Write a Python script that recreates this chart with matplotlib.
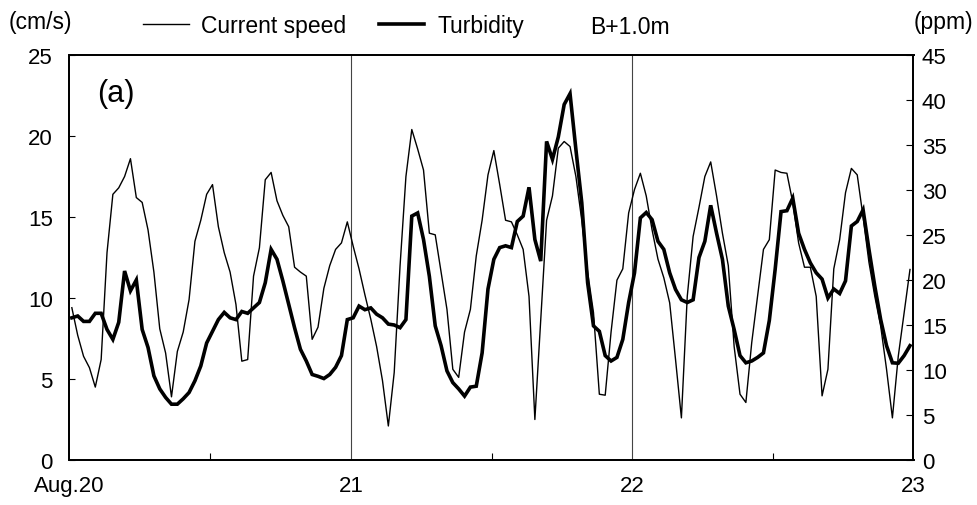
import numpy as np
import matplotlib
matplotlib.use("Agg")
import matplotlib.pyplot as plt
from matplotlib.ticker import MultipleLocator

plt.rcParams['font.family'] = ['Liberation Sans', 'DejaVu Sans']

# ---- data (half-hourly, hours since Aug.20 00:00) ----
start_hour = 0.2
step_hour = 0.5

current_speed = [  # cm/s
    9.4, 7.7, 6.4, 5.7, 4.5, 6.2, 12.8, 16.4, 16.8, 17.5, 18.6, 16.2,
    15.9, 14.2, 11.6, 8.1, 6.6, 3.9, 6.7, 7.9, 9.9, 13.5, 14.8, 16.4,
    17.0, 14.4, 12.8, 11.6, 9.6, 6.1, 6.2, 11.35, 13.1, 17.3, 17.75, 16.0,
    15.1, 14.4, 11.9, 11.6, 11.35, 7.45, 8.2, 10.6, 12.0, 13.0, 13.4, 14.7,
    13.2, 11.8, 10.2, 8.7, 7.0, 4.9, 2.1, 5.4, 12.0, 17.5, 20.4, 19.2,
    17.9, 14.0, 13.9, 11.6, 9.3, 5.6, 5.1, 7.9, 9.3, 12.6, 14.8, 17.6,
    19.1, 17.0, 14.8, 14.7, 13.9, 13.0, 10.1, 2.5, 8.7, 14.8, 16.3, 19.25,
    19.66, 19.35, 17.5, 14.8, 11.6, 9.1, 4.06, 4.0, 7.9, 11.1, 11.8, 15.25,
    16.7, 17.7, 16.3, 14.2, 12.4, 11.25, 9.7, 6.2, 2.6, 10.1, 13.8, 15.6,
    17.5, 18.4, 16.3, 14.0, 12.0, 7.0, 4.06, 3.55, 7.25, 10.1, 13.0, 13.6,
    17.9, 17.75, 17.7, 15.9, 13.4, 11.9, 11.9, 10.1, 3.96, 5.6, 11.8, 13.6,
    16.5, 18.0, 17.6, 15.0, 12.2, 10.1, 8.27, 5.6, 2.6, 6.4, 9.1, 11.76,
]

turbidity = [  # ppm
    15.8, 16.0, 15.4, 15.4, 16.3, 16.3, 14.5, 13.4, 15.3, 21.0, 18.8, 20.0,
    14.5, 12.5, 9.35, 7.9, 6.95, 6.2, 6.2, 6.8, 7.5, 8.8, 10.45, 13.0,
    14.3, 15.6, 16.4, 15.8, 15.6, 16.5, 16.3, 16.9, 17.5, 19.7, 23.4, 22.3,
    19.9, 17.3, 14.7, 12.3, 11.0, 9.5, 9.3, 9.05, 9.5, 10.3, 11.6, 15.6,
    15.8, 17.1, 16.7, 16.9, 16.2, 15.8, 15.1, 15.0, 14.7, 15.6, 27.1, 27.45,
    24.5, 20.4, 14.9, 12.7, 9.9, 8.6, 7.9, 7.1, 8.1, 8.2, 11.9, 19.0,
    22.3, 23.6, 23.8, 23.6, 26.5, 27.1, 30.3, 24.5, 22.1, 35.4, 33.4, 35.9,
    39.5, 40.7, 34.5, 28.6, 19.7, 14.9, 14.3, 11.6, 11.0, 11.4, 13.4, 17.5,
    20.8, 26.9, 27.5, 26.7, 24.3, 23.4, 20.8, 18.95, 17.8, 17.5, 17.8, 22.5,
    24.3, 28.3, 25.2, 22.3, 17.1, 14.5, 11.6, 10.8, 11.0, 11.4, 11.9, 15.5,
    21.2, 27.6, 27.7, 29.1, 25.2, 23.4, 21.9, 20.8, 20.1, 18.0, 19.0, 18.5,
    19.9, 26.0, 26.5, 27.8, 23.4, 19.3, 15.6, 12.7, 10.8, 10.75, 11.6, 12.7,
]

day_ticks = [20, 21, 22, 23]
day_labels = ["Aug.20", "21", "22", "23"]
day_lines = [21, 22]
left_ticks = [0, 5, 10, 15, 20, 25]
right_ticks = [0, 5, 10, 15, 20, 25, 30, 35, 40, 45]

hours = start_hour + step_hour * np.arange(len(current_speed))
days = 20 + hours / 24.0

# ---- figure ----
fig = plt.figure(figsize=(9.78, 5.06), dpi=100)
L, R, B, T = 69.5 / 978, 913.5 / 978, 1 - 461 / 506, 1 - 56 / 506
ax = fig.add_axes([L, B, R - L, T - B])
ax2 = ax.twinx()

FS = 16.5
TFS = 16
for xv in day_lines:
    ax.axvline(xv, color="#444444", lw=0.8, zorder=1)

l1, = ax.plot(days, current_speed, color="black", lw=1.0, zorder=3)
l2, = ax2.plot(days, turbidity, color="black", lw=2.6, zorder=3,
               solid_joinstyle="miter")

ax.set_xlim(20, 23)
ax.set_ylim(0, 25)
ax2.set_ylim(0, 45)
ax.set_xticks(day_ticks)
ax.set_xticklabels(day_labels)
ax.xaxis.set_minor_locator(MultipleLocator(0.5))
ax.set_yticks(left_ticks)
ax2.set_yticks(right_ticks)

ax.tick_params(axis="x", which="major", direction="in", length=0, pad=11,
               labelsize=TFS)
ax.tick_params(axis="x", which="minor", direction="in", length=5, width=0.8)
ax.tick_params(axis="y", direction="in", length=4, width=0.8, pad=12,
               labelsize=TFS)
ax2.tick_params(axis="y", direction="in", length=5, width=0.8, pad=6,
                labelsize=TFS)
for s in ax.spines.values():
    s.set_linewidth(1.3)
for s in ax2.spines.values():
    s.set_linewidth(1.3)

ax.text(0.033, 0.905, "(a)", transform=ax.transAxes, fontsize=22,
        ha="left", va="center")

fig.text(9 / 978, 1 - 22 / 506, "(cm/s)", fontsize=FS, ha="left", va="center")
fig.text(973 / 978, 1 - 22 / 506, "(ppm)", fontsize=FS, ha="right", va="center")
fig.text(590 / 978, 1 - 27 / 506, "B+1.0m", fontsize=FS, ha="left", va="center")

leg = fig.legend([l1, l2], ["Current speed", "Turbidity"], ncol=2,
                 loc="center left", bbox_to_anchor=(143 / 978, 1 - 27 / 506),
                 frameon=False, fontsize=FS, handlelength=2.0,
                 handletextpad=0.55, columnspacing=1.4, borderpad=0,
                 borderaxespad=0)

fig.savefig("out.png", dpi=100)
